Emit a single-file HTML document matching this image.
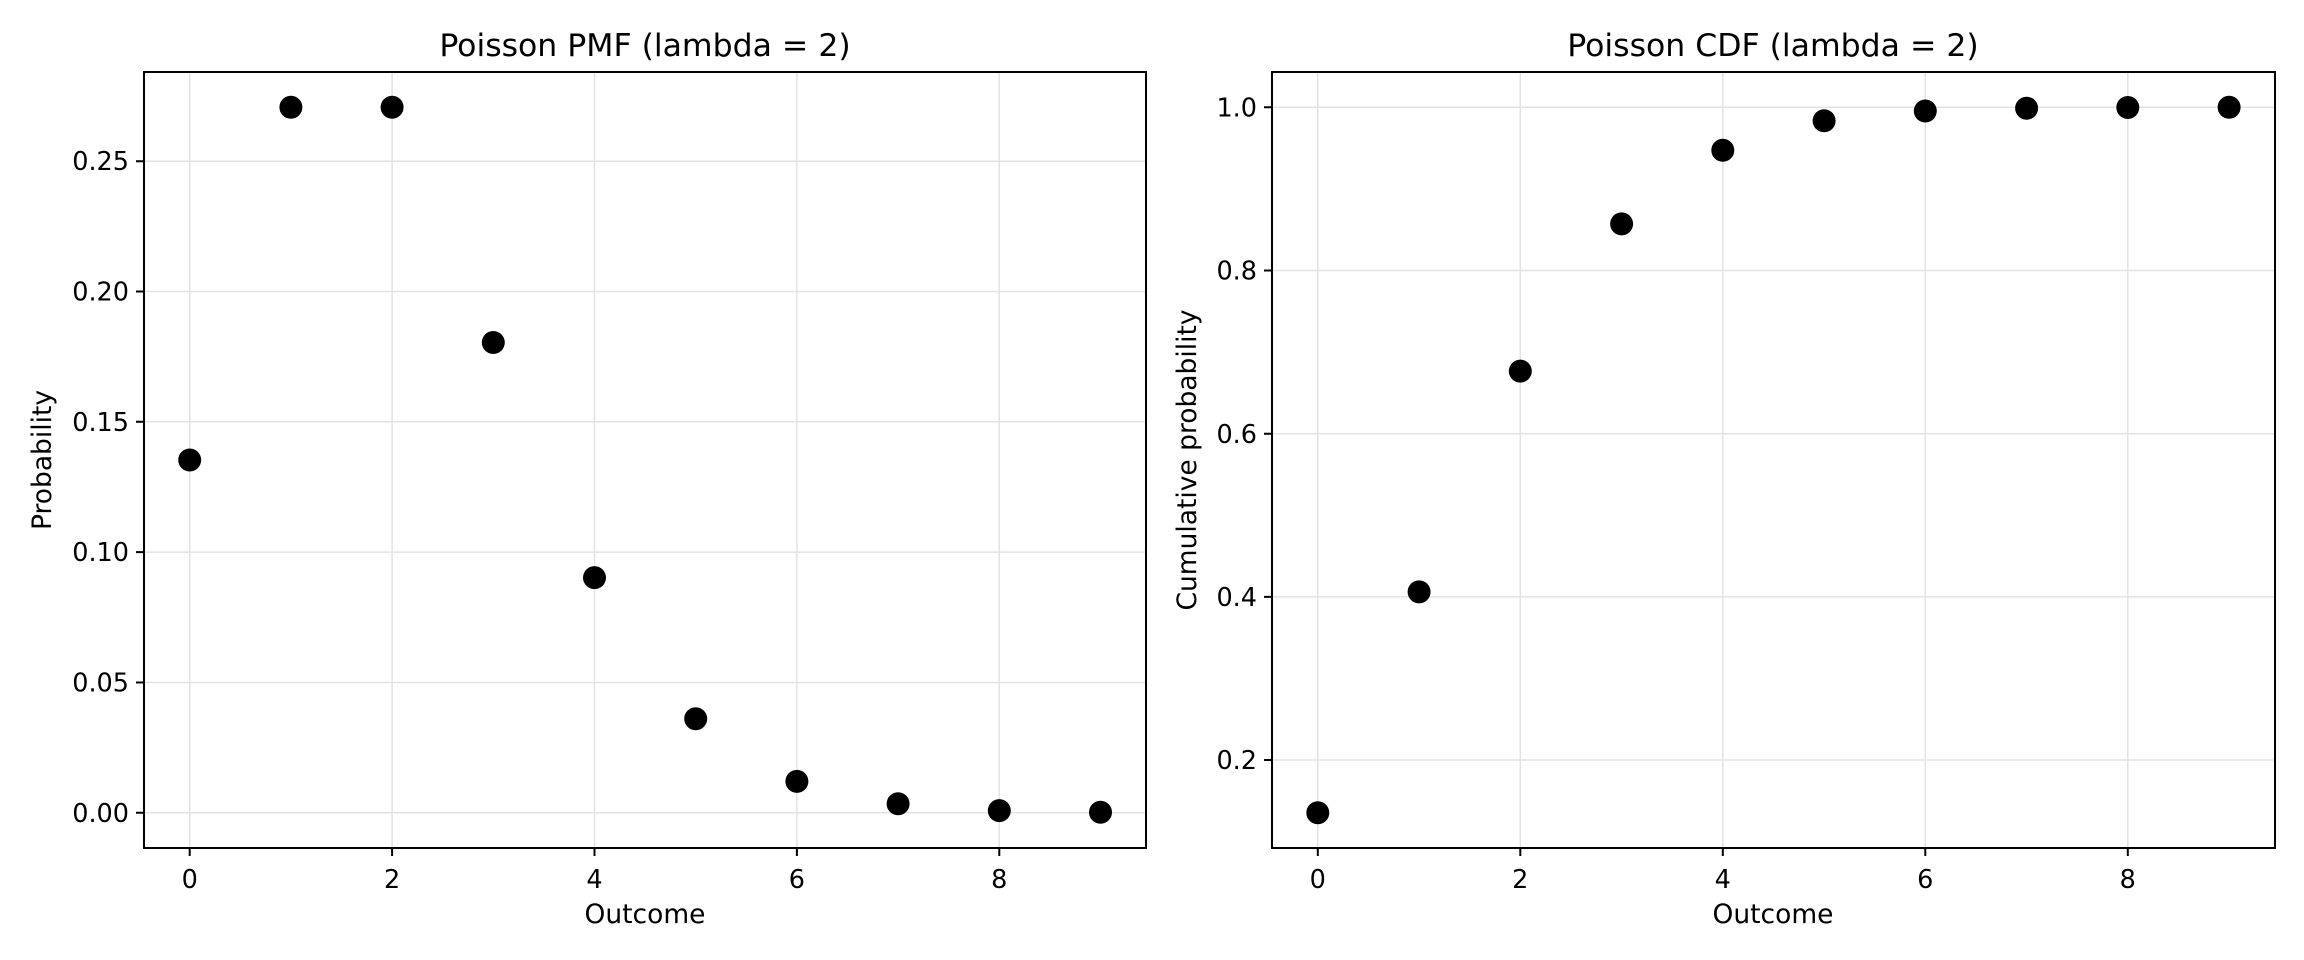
<!DOCTYPE html>
<html><head><style>body{margin:0;background:#fff}svg{display:block}text{font-family:"DejaVu Sans","Liberation Sans",sans-serif;fill:#000}</style></head>
<body>
<svg width="2304" height="960" viewBox="0 0 2304 960" xmlns="http://www.w3.org/2000/svg">
<rect width="2304" height="960" fill="#fff"/>
<g stroke="#e3e3e3" stroke-width="1.5">
<line x1="189.7" y1="72" x2="189.7" y2="848"/><line x1="392.1" y1="72" x2="392.1" y2="848"/><line x1="594.5" y1="72" x2="594.5" y2="848"/><line x1="796.9" y1="72" x2="796.9" y2="848"/><line x1="999.3" y1="72" x2="999.3" y2="848"/>
<line x1="144" y1="812.8" x2="1146" y2="812.8"/><line x1="144" y1="682.5" x2="1146" y2="682.5"/><line x1="144" y1="552.1" x2="1146" y2="552.1"/><line x1="144" y1="421.8" x2="1146" y2="421.8"/><line x1="144" y1="291.5" x2="1146" y2="291.5"/><line x1="144" y1="161.2" x2="1146" y2="161.2"/>
<line x1="1317.8" y1="72" x2="1317.8" y2="848"/><line x1="1520.3" y1="72" x2="1520.3" y2="848"/><line x1="1722.8" y1="72" x2="1722.8" y2="848"/><line x1="1925.3" y1="72" x2="1925.3" y2="848"/><line x1="2127.8" y1="72" x2="2127.8" y2="848"/>
<line x1="1272" y1="107.3" x2="2275" y2="107.3"/><line x1="1272" y1="270.5" x2="2275" y2="270.5"/><line x1="1272" y1="433.7" x2="2275" y2="433.7"/><line x1="1272" y1="596.9" x2="2275" y2="596.9"/><line x1="1272" y1="760" x2="2275" y2="760"/>
</g>
<g fill="#000">
<circle cx="189.7" cy="460" r="11.5"/><circle cx="290.9" cy="107.3" r="11.5"/><circle cx="392.1" cy="107.3" r="11.5"/><circle cx="493.3" cy="342.5" r="11.5"/><circle cx="594.5" cy="577.6" r="11.5"/><circle cx="695.7" cy="718.7" r="11.5"/><circle cx="796.9" cy="781.4" r="11.5"/><circle cx="898.1" cy="803.8" r="11.5"/><circle cx="999.3" cy="810.6" r="11.5"/><circle cx="1100.5" cy="812.3" r="11.5"/>
<circle cx="1317.8" cy="812.8" r="11.5"/><circle cx="1419.1" cy="591.9" r="11.5"/><circle cx="1520.3" cy="371.1" r="11.5"/><circle cx="1621.6" cy="223.9" r="11.5"/><circle cx="1722.8" cy="150.3" r="11.5"/><circle cx="1824.1" cy="120.8" r="11.5"/><circle cx="1925.3" cy="111" r="11.5"/><circle cx="2026.6" cy="108.2" r="11.5"/><circle cx="2127.8" cy="107.5" r="11.5"/><circle cx="2229.1" cy="107.3" r="11.5"/>
</g>
<g fill="none" stroke="#000" stroke-width="2">
<rect x="144" y="72" width="1002" height="776"/>
<rect x="1272" y="72" width="1003" height="776"/>
<path d="M189.7 848v8M392.1 848v8M594.5 848v8M796.9 848v8M999.3 848v8M144 812.8h-8M144 682.5h-8M144 552.1h-8M144 421.8h-8M144 291.5h-8M144 161.2h-8"/>
<path d="M1317.8 848v8M1520.3 848v8M1722.8 848v8M1925.3 848v8M2127.8 848v8M1272 107.3h-8M1272 270.5h-8M1272 433.7h-8M1272 596.9h-8M1272 760h-8"/>
</g>
<g font-size="25.5" text-anchor="middle">
<text x="189.7" y="888">0</text><text x="392.1" y="888">2</text><text x="594.5" y="888">4</text><text x="796.9" y="888">6</text><text x="999.3" y="888">8</text>
<text x="1317.8" y="888">0</text><text x="1520.3" y="888">2</text><text x="1722.8" y="888">4</text><text x="1925.3" y="888">6</text><text x="2127.8" y="888">8</text>
</g>
<g font-size="26.5" text-anchor="middle">
<text x="645" y="923">Outcome</text><text x="1773" y="923">Outcome</text>
<text transform="translate(51 460) rotate(-90)">Probability</text>
<text transform="translate(1196 460) rotate(-90)">Cumulative probability</text>
</g>
<g font-size="25.5" text-anchor="end">
<text x="129" y="822">0.00</text><text x="129" y="691.5">0.05</text><text x="129" y="561">0.10</text><text x="129" y="431">0.15</text><text x="129" y="300.5">0.20</text><text x="129" y="170">0.25</text>
<text x="1257" y="116.5">1.0</text><text x="1257" y="279.5">0.8</text><text x="1257" y="443">0.6</text><text x="1257" y="606">0.4</text><text x="1257" y="769">0.2</text>
</g>
<g font-size="31.5" text-anchor="middle">
<text x="645" y="56">Poisson PMF (lambda = 2)</text>
<text x="1773" y="56">Poisson CDF (lambda = 2)</text>
</g>
</svg>
</body></html>
